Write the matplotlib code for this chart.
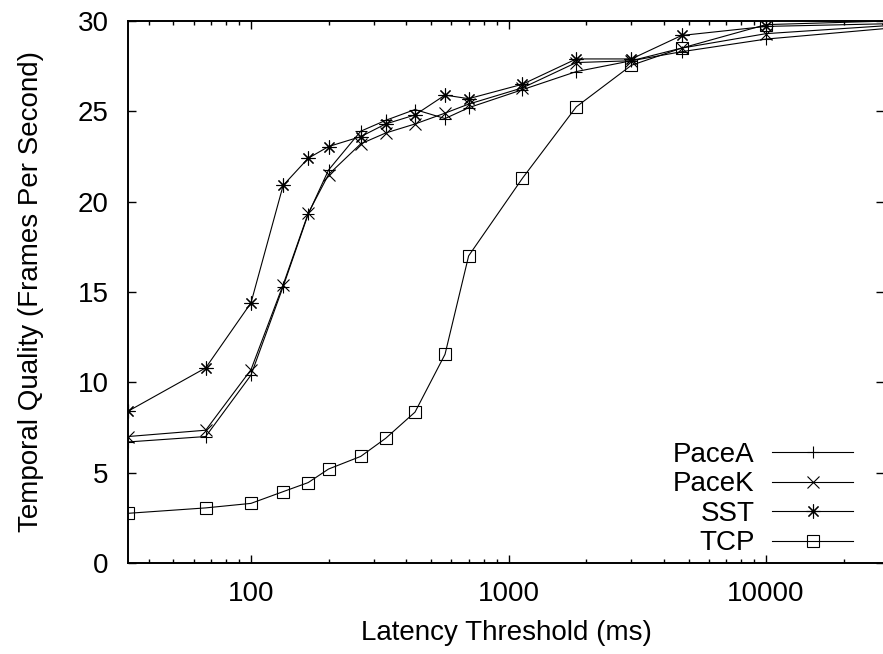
import numpy as np
import matplotlib
matplotlib.use("Agg")
import matplotlib.pyplot as plt
from matplotlib.ticker import LogLocator, FixedLocator, NullFormatter

plt.rcParams['font.family'] = ['Liberation Sans', 'DejaVu Sans']

# latency thresholds (ms)
latency = [33.3, 66.7, 100, 133.3, 166.7, 200, 266.7, 333.3, 433.3, 566.7,
           700, 1133, 1833, 3000, 4700, 10000, 30000]

pace_a = [6.7, 7.0, 10.4, 15.3, 19.3, 21.75, 23.9, 24.5, 25.1, 24.6,
          25.2, 26.2, 27.2, 27.8, 28.3, 29.0, 29.6]
pace_k = [7.0, 7.35, 10.7, 15.4, 19.35, 21.5, 23.2, 23.8, 24.3, 24.9,
          25.4, 26.3, 27.7, 27.8, 28.5, 29.3, 29.75]
sst = [8.4, 10.8, 14.4, 20.9, 22.4, 23.05, 23.6, 24.3, 24.8, 25.9,
       25.7, 26.5, 27.9, 27.9, 29.2, 29.7, 29.85]
tcp = [2.75, 3.05, 3.3, 3.95, 4.45, 5.2, 5.9, 6.9, 8.35, 11.55,
       17.0, 21.3, 25.25, 27.55, 28.5, 29.8, 30.0]

series = [
    ("PaceA", pace_a, dict(marker='+', markersize=9)),
    ("PaceK", pace_k, dict(marker='x', markersize=8.5)),
    ("SST", sst, dict(marker=(8, 2, 0), markersize=10)),
    ("TCP", tcp, dict(marker='s', markersize=8, markerfacecolor='none')),
]

FS = 20

fig = plt.figure(figsize=(8.83, 6.54), dpi=100)
ax = fig.add_axes([128 / 883, 1 - 563 / 654, 756 / 883, (563 - 21) / 654])

for name, vals, style in series:
    ax.plot(latency, vals, color='black', linewidth=0.8,
            markeredgewidth=0.8, markeredgecolor='black', label=name, **style)

ax.set_xscale('log')
ax.set_xlim(33.3, 28700)
ax.set_ylim(0, 30)
ax.xaxis.set_major_locator(FixedLocator([100, 1000, 10000]))
ax.xaxis.set_minor_locator(LogLocator(base=10, subs=np.arange(2, 10), numticks=20))
ax.xaxis.set_minor_formatter(NullFormatter())
ax.set_xticklabels(['100', '1000', '10000'])
ax.set_yticks(range(0, 31, 5))

ax.tick_params(which='both', direction='in', top=True, right=True,
               labelsize=FS, width=1)
ax.tick_params(which='major', length=6)
ax.tick_params(which='minor', length=3)
ax.tick_params(axis='y', pad=14)
ax.tick_params(axis='x', pad=13)
for sp in ax.spines.values():
    sp.set_linewidth(1.4)

ax.set_xlabel('Latency Threshold (ms)', fontsize=FS, labelpad=9)
ax.set_ylabel('Temporal Quality (Frames Per Second)', fontsize=FS, labelpad=24)

ax.legend(loc='lower right', bbox_to_anchor=(0.959, 0.012), frameon=False,
          markerfirst=False, fontsize=FS, handlelength=2.9, handletextpad=0.64,
          labelspacing=0.13, borderpad=0, borderaxespad=0)

fig.savefig('out.png', dpi=100)
